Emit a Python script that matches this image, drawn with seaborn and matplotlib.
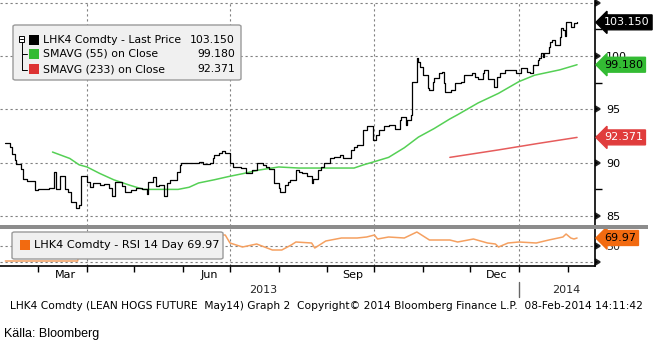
import numpy as np
import pandas as pd
import matplotlib
matplotlib.use("Agg")
import matplotlib.pyplot as plt
import matplotlib.dates as mdates
import matplotlib.transforms as mtrans
from matplotlib.patches import FancyBboxPatch, Rectangle
from matplotlib.lines import Line2D
import seaborn as sns

# ---------------- data ----------------
price_dates = [
    "2013-02-08", "2013-02-11", "2013-02-12", "2013-02-14", "2013-02-15", "2013-02-18", "2013-02-19",
    "2013-02-22", "2013-02-27", "2013-03-01", "2013-03-05", "2013-03-08", "2013-03-11", "2013-03-12",
    "2013-03-15", "2013-03-18", "2013-03-20", "2013-03-22", "2013-03-25", "2013-03-27", "2013-03-28",
    "2013-04-01", "2013-04-03", "2013-04-05", "2013-04-09", "2013-04-12", "2013-04-15", "2013-04-17",
    "2013-04-19", "2013-04-23", "2013-04-25", "2013-04-29", "2013-05-02", "2013-05-06", "2013-05-09",
    "2013-05-10", "2013-05-13", "2013-05-15", "2013-05-17", "2013-05-20", "2013-05-22", "2013-05-24",
    "2013-05-28", "2013-05-30", "2013-05-31", "2013-06-04", "2013-06-07", "2013-06-11", "2013-06-14",
    "2013-06-18", "2013-06-20", "2013-06-21", "2013-06-24", "2013-06-26", "2013-06-28",
    "2013-07-01", "2013-07-03", "2013-07-08", "2013-07-11", "2013-07-15", "2013-07-18", "2013-07-22",
    "2013-07-24", "2013-07-26", "2013-07-29", "2013-08-01", "2013-08-02", "2013-08-05", "2013-08-07",
    "2013-08-08", "2013-08-12", "2013-08-14", "2013-08-16", "2013-08-19", "2013-08-22", "2013-08-23",
    "2013-08-26", "2013-08-28", "2013-08-30", "2013-09-03", "2013-09-05", "2013-09-09", "2013-09-11",
    "2013-09-16", "2013-09-18", "2013-09-20", "2013-09-24", "2013-09-26", "2013-09-30", "2013-10-02",
    "2013-10-04", "2013-10-07", "2013-10-10", "2013-10-14", "2013-10-17", "2013-10-18", "2013-10-21",
    "2013-10-22", "2013-10-24", "2013-10-25", "2013-10-28", "2013-10-29", "2013-10-30", "2013-11-01",
    "2013-11-04", "2013-11-05", "2013-11-07", "2013-11-08", "2013-11-11", "2013-11-13", "2013-11-14",
    "2013-11-15", "2013-11-18", "2013-11-19", "2013-11-21", "2013-11-25", "2013-11-27", "2013-12-02",
    "2013-12-04", "2013-12-06", "2013-12-09", "2013-12-10", "2013-12-12", "2013-12-16", "2013-12-18",
    "2013-12-20", "2013-12-23", "2013-12-26", "2013-12-30", "2014-01-02", "2014-01-06", "2014-01-08",
    "2014-01-10", "2014-01-13", "2014-01-14", "2014-01-15", "2014-01-16", "2014-01-17", "2014-01-20",
    "2014-01-21", "2014-01-22", "2014-01-24", "2014-01-27", "2014-01-28", "2014-01-29", "2014-01-30",
    "2014-01-31", "2014-02-03", "2014-02-05", "2014-02-07",
]
price_close = [
    91.8, 91.5, 90.8, 90.3, 89.9, 89.4, 88.5,
    88.3, 87.4, 87.5, 87.5, 87.6, 89.1, 87.5,
    88.8, 87.5, 87.3, 86.3, 85.8, 86.0, 88.8,
    88.2, 87.7, 88.1, 87.9, 88.0, 87.6, 86.9,
    88.2, 87.8, 87.3, 87.4, 87.6, 87.5, 87.1,
    88.2, 88.7, 87.8, 87.9, 86.9, 88.1, 88.4,
    89.1, 89.8, 90.0, 90.0, 90.0, 90.1, 89.9,
    90.0, 90.4, 90.7, 90.9, 91.1, 90.9,
    90.0, 89.6, 89.5, 89.0, 89.3, 90.0, 89.8,
    89.6, 89.4, 88.1, 87.6, 87.3, 87.9, 88.2,
    88.4, 89.3, 89.1, 89.0, 88.8, 88.1, 88.5,
    89.3, 89.6, 90.0, 90.4, 90.5, 90.7, 90.4,
    91.2, 91.5, 91.7, 93.1, 93.4, 92.1, 92.6,
    93.1, 93.4, 93.5, 93.2, 94.0, 94.3, 93.5,
    94.0, 94.5, 97.6, 99.8, 99.4, 99.0, 98.2,
    97.0, 96.8, 97.6, 97.9, 98.4, 98.5, 97.5,
    96.6, 96.6, 96.8, 97.5, 97.6, 98.2, 98.4,
    98.0, 97.8, 98.4, 98.7, 97.8, 97.1, 98.0,
    98.4, 98.7, 98.7, 98.4, 98.9, 98.5, 98.4,
    99.2, 99.6, 99.8, 100.3, 99.9, 100.3, 100.8,
    101.3, 101.5, 101.0, 101.8, 102.6, 102.4, 101.9,
    103.2, 102.7, 103.1, 103.15,
]

sma55_dates = [
    "2013-03-10", "2013-03-21", "2013-03-27", "2013-04-01", "2013-04-09", "2013-04-18", "2013-04-28",
    "2013-05-07", "2013-05-20", "2013-05-29", "2013-06-05", "2013-06-11", "2013-06-21", "2013-06-30",
    "2013-07-10", "2013-07-19", "2013-08-01", "2013-08-14", "2013-09-18", "2013-09-24", "2013-10-01",
    "2013-10-10", "2013-10-20", "2013-10-29", "2013-11-08", "2013-11-18", "2013-11-23", "2013-12-06",
    "2013-12-19", "2014-01-01", "2014-01-11", "2014-01-27", "2014-02-07",
]
sma55_vals = [
    91.0, 90.4, 89.8, 89.6, 89.0, 88.4, 87.9,
    87.5, 87.5, 87.5, 87.7, 88.1, 88.4, 88.7,
    89.0, 89.3, 89.6, 89.5, 89.5, 89.8, 90.1,
    90.5, 91.4, 92.4, 93.2, 94.1, 94.5, 95.6,
    96.5, 97.6, 98.2, 98.7, 99.18,
]

sma233_dates = ["2013-11-18", "2013-12-19", "2014-01-13", "2014-02-07"]
sma233_vals = [90.5, 91.2, 91.8, 92.371]

rsi_dates = [
    "2013-02-08", "2013-03-26", "2013-03-28", "2013-04-10", "2013-04-25", "2013-05-10", "2013-05-22",
    "2013-06-01", "2013-06-08", "2013-06-15", "2013-06-28", "2013-07-01", "2013-07-09", "2013-07-18",
    "2013-07-28", "2013-08-03", "2013-08-09", "2013-08-12", "2013-08-22", "2013-08-24", "2013-08-31",
    "2013-09-10", "2013-09-20", "2013-09-26", "2013-10-01", "2013-10-03", "2013-10-10", "2013-10-20",
    "2013-10-28", "2013-11-01", "2013-11-05", "2013-11-18", "2013-11-23", "2013-12-03", "2013-12-12",
    "2013-12-17", "2013-12-19", "2013-12-25", "2014-01-01", "2014-01-12", "2014-01-20", "2014-01-29",
    "2014-01-31", "2014-02-03", "2014-02-05", "2014-02-07",
]
rsi_vals = [
    12.5, 12.5, 50.0, 55.0, 52.0, 58.0, 60.0,
    65.0, 70.0, 77.5, 77.5, 57.5, 47.5, 55.0,
    40.0, 40.0, 52.5, 60.0, 57.5, 45.0, 62.5,
    70.0, 70.0, 72.5, 77.5, 67.5, 72.5, 70.0,
    85.0, 75.0, 65.0, 65.0, 60.0, 67.5, 57.5,
    55.0, 47.5, 57.5, 60.0, 57.5, 65.0, 72.5,
    80.0, 70.0, 67.5, 69.97,
]

price_ticks = [85, 90, 95, 100]
month_labels = ["Mar", "Jun", "Sep", "Dec"]
month_label_dates = ["2013-03-18", "2013-06-18", "2013-09-17", "2013-12-18"]
year_labels = ["2013", "2014"]

legend_rows = [("LHK4 Comdty - Last Price", "103.150", "#000000"),
               ("SMAVG (55) on Close", "99.180", "#33bb33"),
               ("SMAVG (233) on Close", "92.371", "#dd3333")]

# ---------------- figure ----------------
W, H = 657, 346
sns.set_theme(style="white")
plt.rcParams["font.family"] = ["DejaVu Sans"]
fig = plt.figure(figsize=(W / 100, H / 100), dpi=100)
fig.patch.set_facecolor("white")


def fx(px):
    return px / W


def fy(py):
    return 1 - py / H


ax = fig.add_axes([0, fy(226), fx(595), (226 - 1) / H])
axr = fig.add_axes([0, fy(266), fx(595), (266 - 229) / H], sharex=ax)

dfp = pd.DataFrame({"date": pd.to_datetime(price_dates), "close": price_close})
dfs = pd.DataFrame({"date": pd.to_datetime(sma55_dates), "v": sma55_vals})
dfl = pd.DataFrame({"date": pd.to_datetime(sma233_dates), "v": sma233_vals})
dfr = pd.DataFrame({"date": pd.to_datetime(rsi_dates), "v": rsi_vals})

sns.lineplot(data=dfs, x="date", y="v", ax=ax, color="#55d055", lw=1.1, zorder=3)
sns.lineplot(data=dfl, x="date", y="v", ax=ax, color="#e65c5c", lw=1.1, zorder=3)
sns.lineplot(data=dfp, x="date", y="close", ax=ax, color="black", lw=0.9,
             drawstyle="steps-post", zorder=4)
sns.lineplot(data=dfr, x="date", y="v", ax=axr, color="#f5a060", lw=1.1, zorder=3)

xmin = pd.Timestamp("2013-02-04 14:00")
xmax = pd.Timestamp("2014-02-18 10:00")
ax.set_xlim(xmin, xmax)
ax.set_ylim(84.07, 105.15)
axr.set_ylim(0, 92.5)

grid_kw = dict(color="#808080", lw=0.8, ls=(0, (2, 2.5)))
for a in (ax, axr):
    for s in ("top", "left", "bottom"):
        a.spines[s].set_visible(False)
    a.spines["right"].set_color("black")
    a.spines["right"].set_linewidth(1.2)
    a.set_xlabel("")
    a.set_ylabel("")
    a.set_facecolor("white")
    a.xaxis.set_major_locator(mdates.MonthLocator(bymonth=[1, 4, 7, 10]))
    a.xaxis.grid(True, **grid_kw)
    a.yaxis.grid(True, **grid_kw)

axr.spines["bottom"].set_visible(True)
axr.spines["bottom"].set_color("black")
axr.spines["bottom"].set_linewidth(1.2)

# main y axis (right)
ax.yaxis.tick_right()
ax.set_yticks([85, 90, 95, 100, 105])
ax.set_yticklabels(["85", "90", "95", "100", ""])
ax.set_yticks([87.5, 92.5, 97.5, 102.5], minor=True)
ax.tick_params(axis="y", which="major", right=True, left=False, length=0, pad=8,
               labelsize=8, labelcolor="black")
ax.tick_params(axis="y", which="minor", right=True, left=False, length=5, width=1.0,
               color="black", direction="out")
for t in ax.yaxis.get_major_ticks():
    t.tick2line.set_marker(9)
    t.tick2line.set_markersize(5)
    t.tick2line.set_color("black")
ax.tick_params(axis="x", which="both", bottom=False, labelbottom=False)

axr.yaxis.tick_right()
axr.set_yticks([10, 50])
axr.set_yticklabels(["", "50"])
axr.tick_params(axis="y", which="major", right=True, left=False, length=0, pad=8,
                labelsize=8)
for t in axr.yaxis.get_major_ticks():
    t.tick2line.set_marker(9)
    t.tick2line.set_markersize(5)
    t.tick2line.set_color("black")

axr.xaxis.set_minor_locator(mdates.MonthLocator())
axr.tick_params(axis="x", which="both", bottom=True, length=4, width=1.0, color="black",
                direction="out", labelbottom=False)

# month labels
trx = mtrans.blended_transform_factory(axr.transData, fig.transFigure)
for lab, d in zip(month_labels, month_label_dates):
    axr.text(mdates.date2num(pd.Timestamp(d)), fy(275), lab, transform=trx, ha="center",
             va="center", fontsize=8, color="black")
fig.text(fx(263), fy(290), year_labels[0], ha="center", va="center", fontsize=8)
fig.text(fx(566), fy(290), year_labels[1], ha="center", va="center", fontsize=8)
fig.add_artist(Line2D([fx(519), fx(519)], [fy(282), fy(297)], color="#666666", lw=1.0))

# separator bar
fig.add_artist(Rectangle((0, fy(228.5)), fx(648), 3.5 / H, transform=fig.transFigure,
                         facecolor="#8c8c8c", edgecolor="none", zorder=20))


# right value tags
def tag(a, yval, text, fc, tc):
    tr = mtrans.blended_transform_factory(fig.transFigure, a.transData)
    a.text(fx(604), yval, text, transform=tr, ha="left", va="center", fontsize=8, color=tc,
           bbox=dict(boxstyle="larrow,pad=0.22", fc=fc, ec=fc), clip_on=False, zorder=30)


tag(ax, price_close[-1], "103.150", "black", "white")
tag(ax, sma55_vals[-1], "99.180", "#33bb33", "black")
tag(ax, sma233_vals[-1], "92.371", "#e03c3c", "white")
tag(axr, rsi_vals[-1], "69.97", "#f26a10", "black")

# main legend box
fig.add_artist(FancyBboxPatch((fx(13), fy(80)), fx(228), (80 - 25) / H,
                              boxstyle="round,pad=0,rounding_size=0.004",
                              transform=fig.transFigure, facecolor="#f0f0f0",
                              edgecolor="#9a9a9a", lw=1.0, zorder=25))
row_y = [40, 54, 69]
for (lab, val, col), ry in zip(legend_rows, row_y):
    fig.add_artist(Rectangle((fx(29), fy(ry + 5)), fx(10), 10 / H, transform=fig.transFigure,
                             facecolor=col, edgecolor="none", zorder=26))
    fig.text(fx(43), fy(ry), lab, ha="left", va="center", fontsize=7.8, color="black", zorder=27)
    fig.text(fx(235), fy(ry), val, ha="right", va="center", fontsize=7.8, color="black", zorder=27)
# tree glyph
fig.add_artist(Rectangle((fx(19), fy(41.5)), fx(5), 5 / H, transform=fig.transFigure,
                         facecolor="white", edgecolor="black", lw=0.7, zorder=26))
fig.add_artist(Line2D([fx(20), fx(23)], [fy(39), fy(39)], color="black", lw=0.7, zorder=27))
fig.add_artist(Line2D([fx(21.5), fx(21.5)], [fy(42), fy(70)], color="black", lw=0.7, zorder=27))
fig.add_artist(Line2D([fx(21.5), fx(27)], [fy(54), fy(54)], color="black", lw=0.7, zorder=27))
fig.add_artist(Line2D([fx(21.5), fx(27)], [fy(70), fy(70)], color="black", lw=0.7, zorder=27))

# RSI legend box
fig.add_artist(FancyBboxPatch((fx(12), fy(259)), fx(211), (259 - 232) / H,
                              boxstyle="round,pad=0,rounding_size=0.004",
                              transform=fig.transFigure, facecolor="#f0f0f0",
                              edgecolor="#9a9a9a", lw=1.0, zorder=25))
fig.add_artist(Rectangle((fx(20), fy(250)), fx(10), 10 / H, transform=fig.transFigure,
                         facecolor="#f26a10", edgecolor="none", zorder=26))
fig.text(fx(34), fy(245), "LHK4 Comdty - RSI 14 Day 69.97", ha="left", va="center",
         fontsize=8.1, color="black", zorder=27)

# footer
fig.text(fx(10), fy(306),
         "LHK4 Comdty (LEAN HOGS FUTURE  May14) Graph 2  Copyright\u00a9 2014 Bloomberg Finance L.P.  08-Feb-2014 14:11:42",
         ha="left", va="center", fontsize=7.7, color="black")
fig.text(fx(4), fy(334), "K\u00e4lla: Bloomberg", ha="left", va="center", fontsize=9,
         color="black", family=["Liberation Sans", "DejaVu Sans"])

fig.savefig("out.png", dpi=100, facecolor="white")
